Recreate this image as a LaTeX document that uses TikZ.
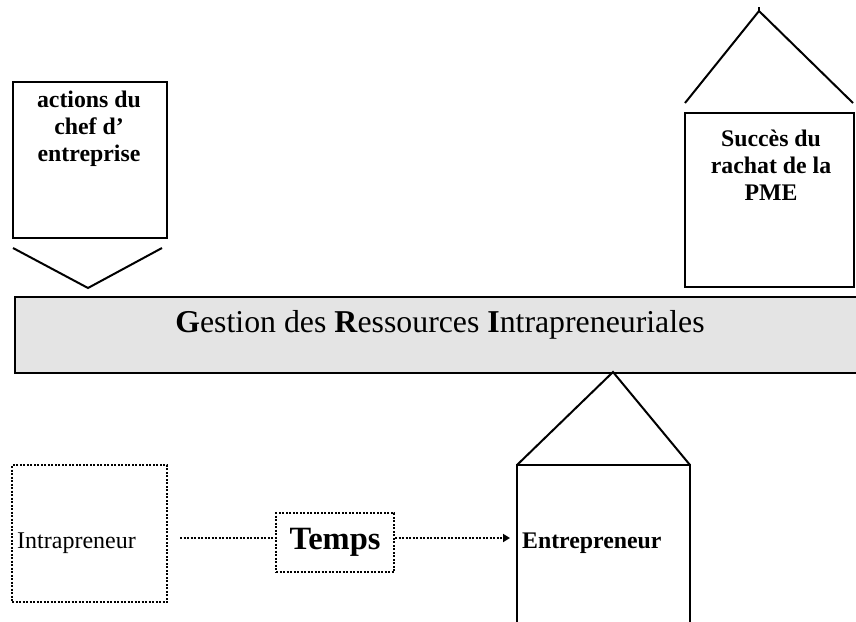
\documentclass[tikz,border=0pt]{standalone}
\usepackage{fontspec}
\setmainfont{Liberation Serif}
\usetikzlibrary{arrows.meta}
\definecolor{barfill}{RGB}{228,228,228}
\tikzset{
  solidbox/.style={draw=black, line width=2.2pt, inner sep=0pt, fill=white},
  dotbox/.style={draw=black, line width=2.2pt, dash pattern=on 2pt off 1.5pt, inner sep=0pt},
  dotline/.style={line width=2.2pt, dash pattern=on 2pt off 1.5pt},
  plainline/.style={line width=2pt, line join=miter},
  boxtext/.style={font=\fontsize{23.8}{27}\selectfont\bfseries, align=center, inner sep=0pt},
  smalltext/.style={font=\fontsize{24}{27}\selectfont, inner sep=0pt},
}
\begin{document}
\begin{tikzpicture}[x=1pt,y=-1pt]
\useasboundingbox (0,0) rectangle (856,621);
% grey bar
\path[fill=barfill, draw=black, line width=2.2pt] (15,297) rectangle (875,373);
\node[inner sep=0pt, anchor=base, font=\fontsize{31.8}{36}\selectfont] (gri) at (440,332)
  {\textbf{G}estion des \textbf{R}essources \textbf{I}ntrapreneuriales};
% left box + chevron
\node[solidbox, minimum width=154pt, minimum height=156pt] (act) at (90,160) {};
\node[boxtext, anchor=north] (actt) at (89,91) {actions du\\chef d'\\entreprise};
\coordinate (chl) at (13,248);
\coordinate (chv) at (88,288);
\coordinate (chr) at (162,248);
\draw[plainline] (chl) -- (chv) -- (chr);
% right box + roof
\node[solidbox, minimum width=169pt, minimum height=174pt] (suc) at (769.5,200) {};
\node[boxtext, anchor=north] (suct) at (771,130) {Succès du\\rachat de la\\PME};
\coordinate (rl) at (685,103);
\coordinate (ra) at (759,11);
\coordinate (rr) at (853,103);
\draw[plainline] (rl) -- (ra) -- (rr);
\draw[line width=1.4pt] (ra) -- ++(0,-4);
% entrepreneur house
\coordinate (ebl) at (517,630);
\coordinate (etl) at (517,465);
\coordinate (etr) at (690,465);
\coordinate (ebr) at (690,630);
\coordinate (ea) at (613,372);
\draw[plainline, line width=2.2pt] (ebl) -- (etl) -- (etr) -- (ebr);
\draw[plainline] (etl) -- (ea) -- (etr);
\node[boxtext, anchor=base west] (entt) at (522,548) {Entrepreneur};
% intrapreneur
\node[dotbox, minimum width=155pt, minimum height=137pt] (intra) at (89.5,533.5) {};
\node[smalltext, anchor=base west] (intrat) at (17,548) {Intrapreneur};
% temps
\node[dotbox, minimum width=118pt, minimum height=59pt, font=\fontsize{32.5}{36}\selectfont\bfseries] (temps) at (335,542.5) {Temps};
% connectors
\coordinate (d1) at (180,538);
\coordinate (d2) at (510,538);
\draw[dotline] (d1) -- (temps.west |- d1);
\draw[dotline, -{Triangle[length=7pt,width=8pt]}] (temps.east |- d2) -- (d2);
\end{tikzpicture}
\end{document}
